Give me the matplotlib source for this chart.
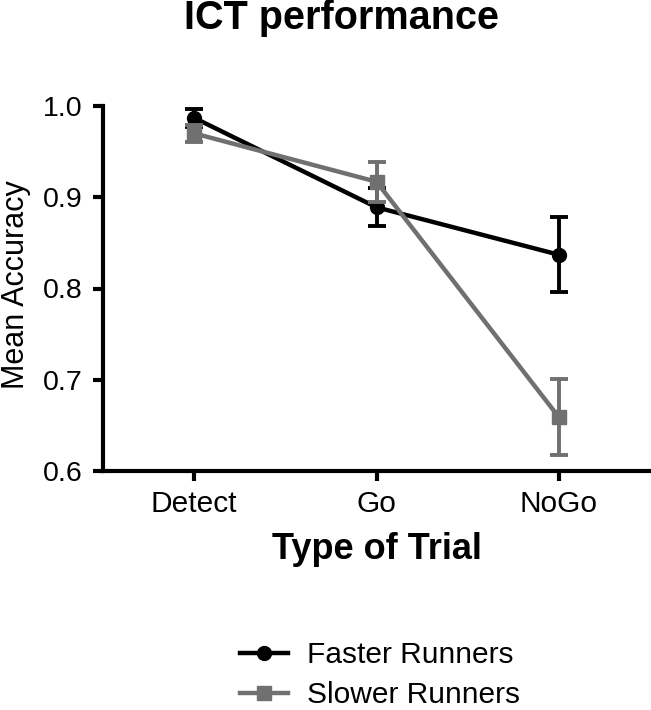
import matplotlib
matplotlib.use("Agg")
import matplotlib.pyplot as plt
from matplotlib.lines import Line2D

plt.rcParams['font.family'] = ['Liberation Sans', 'DejaVu Sans']

categories = ["Detect", "Go", "NoGo"]
faster_mean = [0.987, 0.889, 0.837]
faster_err = [0.010, 0.021, 0.041]
slower_mean = [0.970, 0.917, 0.659]
slower_err = [0.009, 0.022, 0.042]
series_labels = ["Faster Runners", "Slower Runners"]
yticks = [0.6, 0.7, 0.8, 0.9, 1.0]

fig = plt.figure(figsize=(6.51, 7.10), dpi=100)
ax = fig.add_axes([103/651, 1-471/710, (650-103)/651, (471-106)/710])

x = list(range(len(categories)))
black = "#000000"
gray = "#707070"
ax.errorbar(x, faster_mean, yerr=faster_err, color=black, lw=3.2, marker='o',
            markersize=10, capsize=6.5, capthick=2.8, elinewidth=2.8, zorder=3)
ax.errorbar(x, slower_mean, yerr=slower_err, color=gray, lw=3.2, marker='s',
            markersize=10, capsize=6.5, capthick=2.8, elinewidth=2.8, zorder=4)

ax.set_xlim(-0.5, 2.5)
ax.set_ylim(0.6, 1.0)
ax.set_xticks(x)
ax.set_xticklabels(categories, fontsize=21.5)
ax.set_yticks(yticks)
ax.set_yticklabels([f"{v:.1f}" for v in yticks], fontsize=20.5)
for s in ['top', 'right']:
    ax.spines[s].set_visible(False)
for s in ['left', 'bottom']:
    ax.spines[s].set_linewidth(3)
ax.tick_params(axis='y', length=7, width=3, direction='out', pad=8)
ax.tick_params(axis='x', length=7, width=3, direction='out', pad=7)

ax.set_xlabel("Type of Trial", fontsize=26, fontweight='bold', labelpad=10)
fig.text(16/651, 1-285/710, "Mean Accuracy", fontsize=22, rotation=90,
         ha='center', va='center')
fig.text(341/651, 1-18/710, "ICT performance", fontsize=28.5, fontweight='bold',
         ha='center', va='center')

handles = [Line2D([], [], color=black, lw=3.2, marker='o', markersize=10),
           Line2D([], [], color=gray, lw=3.2, marker='s', markersize=10)]
fig.legend(handles, series_labels, loc='center left',
           bbox_to_anchor=(240/651, 1-675/710), frameon=False, fontsize=21.5,
           handlelength=1.6, handletextpad=0.65, labelspacing=0.4,
           borderpad=0, borderaxespad=0)

fig.savefig("out.png", dpi=100)
